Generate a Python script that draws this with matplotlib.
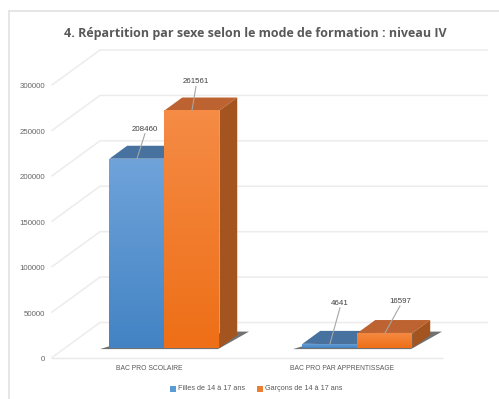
import numpy as np
import matplotlib
matplotlib.use("Agg")
from matplotlib import pyplot as plt
from matplotlib.colors import LinearSegmentedColormap
from matplotlib.patches import Polygon, Rectangle

categories = ["BAC PRO SCOLAIRE", "BAC PRO PAR APPRENTISSAGE"]
filles = [208460, 4641]
garcons = [261561, 16597]
series_names = ["Filles de 14 à 17 ans", "Garçons de 14 à 17 ans"]
y_ticks = [0, 50000, 100000, 150000, 200000, 250000, 300000]
title = "4. Répartition par sexe selon le mode de formation : niveau IV"

W, H = 499, 399
PX_Y = 272.5 / 300000  # pixels per unit on the value axis
PX_X = 193.0  # pixels per category
X0, Y0 = 151.5, 357.5  # where category 0 / value 0 sit

fig = plt.figure(figsize=(W / 100, H / 100), dpi=100)
ax = fig.add_axes([0, 0, 1, 1])
ax.set_xlim(-X0 / PX_X, (W - X0) / PX_X)
ax.set_ylim(-(H - Y0) / PX_Y, Y0 / PX_Y)
ax.axis("off")

# oblique depth vector of the floor, in data units
DX = 48 / PX_X
DY = 35 / PX_Y
D0, D1 = 0.27, 0.64


def proj(x, v, d):
    return x + d * DX, v + d * DY


def px_x(p):
    return p / PX_X


def px_y(p):
    return p / PX_Y


def at_x(p):
    return (p - X0) / PX_X


def at_y(p):
    return (Y0 - p) / PX_Y


def gradient_poly(pts, top, bottom, zorder):
    # fill a polygon with a vertical colour ramp
    cmap = LinearSegmentedColormap.from_list("g", [bottom, top])
    xs, ys = zip(*pts)
    im = ax.imshow(
        np.linspace(1, 0, 64).reshape(-1, 1),
        cmap=cmap,
        extent=(min(xs), max(xs), min(ys), max(ys)),
        aspect="auto",
        zorder=zorder,
    )
    poly = Polygon(pts, closed=True, transform=ax.transData, fc="none", ec="none")
    ax.add_patch(poly)
    im.set_clip_path(poly)


def draw_bar(xl, xr, value, front, top, side):
    a = proj(xl, 0, D0)
    b = proj(xr, 0, D0)
    c = proj(xr, value, D0)
    e = proj(xl, value, D0)
    f = proj(xl, value, D1)
    g = proj(xr, value, D1)
    h = proj(xr, 0, D1)
    ax.add_patch(Polygon([e, c, g, f], closed=True, fc=top, ec="none", zorder=3))
    ax.add_patch(Polygon([b, h, g, c], closed=True, fc=side, ec="none", zorder=3))
    gradient_poly([a, b, c, e], front[0], front[1], 4)


def draw_shadow(xl, xr):
    # dark wedge on the floor around the base of a bar group
    pts = [
        proj(xl - px_x(8), 0, D0 - 0.03),
        proj(xr, 0, D0 - 0.03),
        proj(xr + px_x(7), 0, D1 + 0.1),
        proj(xr - px_x(6), 0, D1 + 0.1),
        proj(xl + px_x(2), 0, D0 + 0.12),
    ]
    ax.add_patch(Polygon(pts, closed=True, fc="#4d4d4d", ec="none", alpha=0.8, zorder=2))


# card edges, top and left only
ax.plot([at_x(9), at_x(499)], [at_y(10.5), at_y(10.5)], color="#e2e2e2", lw=1.2, zorder=0.5)
ax.plot([at_x(9), at_x(9)], [at_y(10.5), at_y(399)], color="#e2e2e2", lw=1.2, zorder=0.5)

# floor and back wall gridlines
left = at_x(52)
right = at_x(439)
for v in y_ticks:
    p0 = proj(left, v, 0)
    p1 = proj(left, v, 1)
    p2 = proj(right, v, 1)
    ax.plot([p0[0], p1[0], p2[0]], [p0[1], p1[1], p2[1]], color="#ececec", lw=1.1, zorder=1)
    ax.text(at_x(45), v - px_y(2), str(v), ha="right", va="center", fontsize=5.7, color="#666666", family="Liberation Sans")
ax.plot([left, at_x(442)], [0, 0], color="#e8e8e8", lw=1.0, zorder=1)

# bars, first series then second
bar_w = 55 / PX_X
BLUE = (("#6fa3da", "#4383c4"), "#47719f", "#3f6a99")
ORANGE = (("#f58b45", "#ee6f17"), "#bd6331", "#a4541f")
for i, (a, b) in enumerate(zip(filles, garcons)):
    draw_shadow(i - bar_w, i + bar_w)
    draw_bar(i - bar_w, i, a, *BLUE)
    draw_bar(i, i + bar_w, b, *ORANGE)

# value labels with leader lines
leaders = [
    (0, filles[0], -bar_w / 2, 8, 25),
    (0, garcons[0], bar_w / 2, 4, 24),
    (1, filles[1], -bar_w / 2, 10, 36),
    (1, garcons[1], bar_w / 2, 15, 27),
]
for i, v, off, dx, dy in leaders:
    bx, by = proj(i + off, v, D0)
    ax.plot([bx, bx + px_x(dx)], [by, by + px_y(dy)], color="#a6a6a6", lw=0.8, zorder=6)
    ax.text(bx + px_x(dx), by + px_y(dy + 1), str(v), ha="center", va="bottom", fontsize=5.7, color="#404040", family="Liberation Sans", zorder=7)

# category labels
for i, name in enumerate(categories):
    ax.text(i - px_x(2), at_y(369), name, ha="center", va="center", fontsize=4.85, color="#595959", family="Liberation Sans")

# legend
for sx, tx, col, name in [(170, 178, "#5b9bd5", series_names[0]), (257, 265, "#ed7d31", series_names[1])]:
    ax.add_patch(Rectangle((at_x(sx), at_y(392)), px_x(6), px_y(6), fc=col, ec="none", zorder=5))
    ax.text(at_x(tx), at_y(389), name, ha="left", va="center", fontsize=5.2, color="#595959", family="Liberation Sans")

ax.text(at_x(255), at_y(33), title, ha="center", va="center", fontsize=9, fontweight="bold", color="#595959", family="Open Sans")

fig.savefig("out.png", dpi=100)
